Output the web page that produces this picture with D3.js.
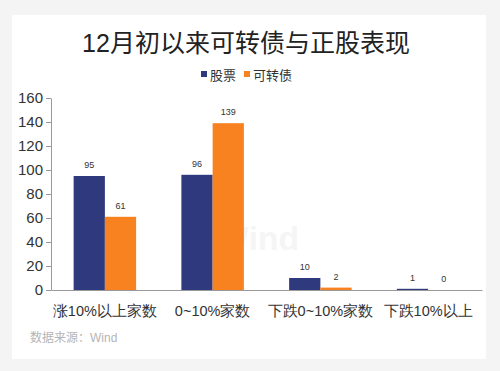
<!DOCTYPE html>
<html>
<head>
<meta charset="utf-8">
<script src="https://cdn.jsdelivr.net/npm/d3@7"></script>
<style>
  body { margin: 0; background: #f4f4f4; }
  svg { display: block; font-family: "Liberation Sans", "Noto Sans CJK SC", sans-serif; }
</style>
</head>
<body>
<div class="chart"></div>
<script>
// 数据
const categories = ['涨10%以上家数', '0~10%家数', '下跌0~10%家数', '下跌10%以上'];
const seriesNames = ['股票', '可转债'];
const stockValues = [95, 96, 10, 1];
const cbValues = [61, 139, 2, 0];
const yTicks = [0, 20, 40, 60, 80, 100, 120, 140, 160];

const colors = ['#2f3a7e', '#f7821f'];

const width = 500, height = 371;
const svg = d3.select('.chart').append('svg')
    .attr('width', width).attr('height', height);

// 白色面板
svg.append('rect')
    .attr('x', 12).attr('y', 15).attr('width', 474).attr('height', 344)
    .attr('fill', '#fff');

// 标题
svg.append('text')
    .attr('x', 246).attr('y', 52)
    .attr('text-anchor', 'middle')
    .style('font-size', '25px').style('fill', '#222')
    .text('12月初以来可转债与正股表现');

// 图例
const legend = svg.append('g').attr('transform', 'translate(201,75)');
let lx = 0;
seriesNames.forEach((name, i) => {
    legend.append('rect').attr('x', lx).attr('y', -4).attr('width', 6).attr('height', 6)
        .attr('fill', colors[i]);
    legend.append('text').attr('x', lx + 9).attr('y', 5)
        .style('font-size', '13px').style('fill', '#333').text(name);
    lx += 9 + name.length * 13 + 8;
});

// 比例尺
const x0 = d3.scaleBand().domain(categories).range([51, 482])
    .paddingInner(0.42).paddingOuter(0.21);
const x1 = d3.scaleBand().domain(seriesNames).range([0, x0.bandwidth()]);
const y = d3.scaleLinear().domain([0, 160]).range([290, 98]);

// 水印
svg.append('text')
    .attr('x', 258).attr('y', 250).attr('text-anchor', 'middle')
    .style('font-size', '34px').style('font-weight', 'bold')
    .style('fill', '#000').style('opacity', 0.035)
    .text('Wind');

// 柱
const rows = categories.map((c, i) => ({ cat: c, values: [stockValues[i], cbValues[i]] }));
const groups = svg.selectAll('.group').data(rows).enter()
    .append('g').attr('class', 'group')
    .attr('transform', d => `translate(${x0(d.cat)},0)`);

groups.selectAll('rect').data(d => d.values.map((v, i) => ({ v, s: seriesNames[i], i }))).enter()
    .append('rect')
    .attr('x', d => x1(d.s))
    .attr('y', d => y(d.v))
    .attr('width', x1.bandwidth())
    .attr('height', d => y(0) - y(d.v))
    .attr('fill', d => colors[d.i]);

groups.selectAll('.val').data(d => d.values.map((v, i) => ({ v, s: seriesNames[i] }))).enter()
    .append('text').attr('class', 'val')
    .attr('x', d => x1(d.s) + x1.bandwidth() / 2)
    .attr('y', d => y(d.v) - 8)
    .attr('text-anchor', 'middle')
    .style('font-size', '9px').style('fill', '#333')
    .text(d => d.v);

// Y 轴
const yAxis = d3.axisLeft(y).tickValues(yTicks).tickSizeInner(5).tickSizeOuter(0).tickPadding(3);
const yAxisDraw = svg.append('g').attr('transform', 'translate(51,0)').call(yAxis);
yAxisDraw.select('.domain').attr('stroke', '#999');
yAxisDraw.selectAll('.tick line').attr('stroke', '#999');
yAxisDraw.selectAll('text').style('font-size', '15px').style('fill', '#333').attr('font-family', null);

// X 轴
const xAxis = d3.axisBottom(x0).tickSize(0).tickSizeOuter(0).tickPadding(16);
const xAxisDraw = svg.append('g').attr('transform', 'translate(0,290)').call(xAxis);
xAxisDraw.select('.domain').attr('stroke', '#999');
xAxisDraw.selectAll('text').style('font-size', '14.5px').style('fill', '#333').attr('font-family', null);

// 来源
svg.append('text')
    .attr('x', 30).attr('y', 342)
    .style('font-size', '12px').style('fill', '#b5b5b5')
    .text('数据来源：Wind');
</script>
</body>
</html>
